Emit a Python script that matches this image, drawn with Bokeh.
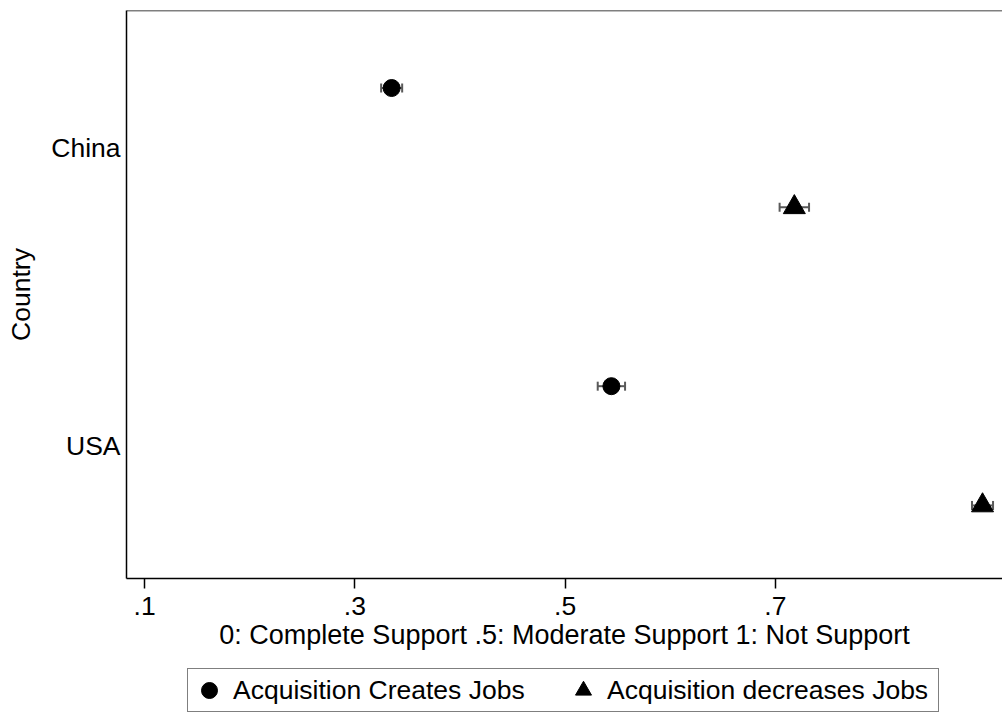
from bokeh.plotting import figure
from bokeh.layouts import column
from bokeh.models import (FixedTicker, Whisker, TeeHead, ColumnDataSource, Legend,
                          LegendItem, Range1d, Span)
from bokeh.embed import file_html
from bokeh.resources import INLINE

# ---- data ----
countries = ["China", "USA"]
country_pos = [2, 1]
creates_mean = [0.335, 0.544]
creates_lo = [0.325, 0.531]
creates_hi = [0.345, 0.557]
decreases_mean = [0.718, 0.897]
decreases_lo = [0.704, 0.887]
decreases_hi = [0.732, 0.907]
x_ticks = [0.1, 0.3, 0.5, 0.7]
x_tick_labels = [".1", ".3", ".5", ".7"]
series_labels = ["Acquisition Creates Jobs", "Acquisition decreases Jobs"]
offset = 0.2

FONT = "Liberation Sans"
FS = "26.5px"
GRAY = "#5a5a5a"

src_c = ColumnDataSource(dict(x=creates_mean, lo=creates_lo, hi=creates_hi,
                              y=[c + offset for c in country_pos]))
src_d = ColumnDataSource(dict(x=decreases_mean, lo=decreases_lo, hi=decreases_hi,
                              y=[c - offset for c in country_pos]))

p = figure(width=1002, height=665, output_backend="svg", toolbar_location=None,
           x_range=Range1d(0.0828, 0.916), y_range=Range1d(0.555, 2.46),
           min_border_left=126, min_border_top=10, min_border_right=0, min_border_bottom=87)
p.outline_line_color = None
p.background_fill_color = "white"
p.border_fill_color = "white"
p.xgrid.visible = False
p.ygrid.visible = False

for src in (src_c, src_d):
    w = Whisker(source=src, base="y", lower="lo", upper="hi", dimension="width",
                line_color=GRAY, line_width=2, level="underlay",
                lower_head=TeeHead(size=9, line_color=GRAY, line_width=2),
                upper_head=TeeHead(size=9, line_color=GRAY, line_width=2))
    p.add_layout(w)

r1 = p.scatter("x", "y", source=src_c, marker="circle", size=17, color="black")
r2 = p.scatter("x", "y", source=src_d, marker="triangle", size=22, color="black")

p.add_layout(Span(location=p.y_range.end, dimension="width", line_color="black", line_width=1.5))

xa = p.xaxis[0]
xa.ticker = FixedTicker(ticks=x_ticks)
xa.major_label_overrides = {t: l for t, l in zip(x_ticks, x_tick_labels)}
xa.axis_label = "0: Complete Support .5: Moderate Support 1: Not Support"
xa.major_tick_out = 10
xa.major_tick_in = 0
xa.minor_tick_out = 0
xa.minor_tick_in = 0
xa.major_label_standoff = 8
xa.axis_label_standoff = 2
xa.axis_line_width = 1.5
xa.major_tick_line_width = 1.5

ya = p.yaxis[0]
ya.ticker = FixedTicker(ticks=country_pos)
ya.major_label_overrides = {c: n for c, n in zip(country_pos, countries)}
ya.axis_label = "Country"
ya.major_tick_out = 0
ya.major_tick_in = 0
ya.minor_tick_out = 0
ya.minor_tick_in = 0
ya.major_label_standoff = 6
ya.axis_label_standoff = 12
ya.axis_line_width = 1.5

for ax in (xa, ya):
    ax.major_label_text_font = FONT
    ax.major_label_text_font_size = FS
    ax.major_label_text_color = "black"
    ax.axis_label_text_font = FONT
    ax.axis_label_text_font_size = FS
    ax.axis_label_text_font_style = "normal"
    ax.axis_label_text_color = "black"
    ax.axis_line_color = "black"
    ax.major_tick_line_color = "black"
xa.axis_label_text_font_size = "27px"

# legend strip below the chart (shares the series sources; its viewport shows no points)
pl = figure(width=1002, height=50, output_backend="svg", toolbar_location=None,
            x_range=Range1d(0.0828, 0.916), y_range=Range1d(10, 11), min_border=0)
pl.axis.visible = False
pl.grid.visible = False
pl.outline_line_color = None
pl.background_fill_color = "white"
pl.border_fill_color = "white"
k1 = pl.scatter("x", "y", source=src_c, marker="circle", size=17, color="black")
k2 = pl.scatter("x", "y", source=src_d, marker="triangle", size=22, color="black")

legend = Legend(items=[LegendItem(label=series_labels[0], renderers=[k1], index=0),
                       LegendItem(label=series_labels[1], renderers=[k2], index=0)],
                orientation="horizontal", location=(61, 3),
                glyph_width=40, glyph_height=40, padding=1, spacing=0, label_standoff=4,
                label_width=330,
                margin=0, border_line_color="black", border_line_width=1.5,
                label_text_font=FONT, label_text_font_size=FS, label_text_color="black")
pl.add_layout(legend)

layout = column(p, pl, spacing=0)
open("out.html", "w").write(file_html(layout, INLINE))
